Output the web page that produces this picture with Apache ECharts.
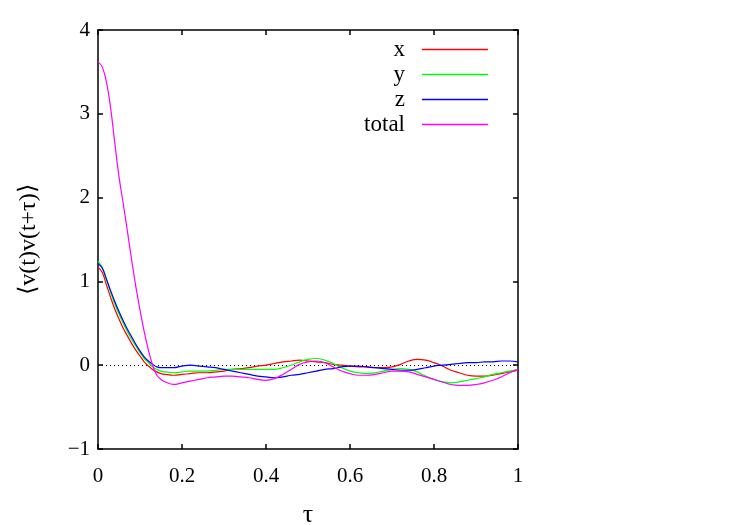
<!DOCTYPE html>
<html>
<head>
<meta charset="utf-8">
<script src="https://cdn.jsdelivr.net/npm/echarts@6/dist/echarts.min.js"></script>
<style>
  html, body { margin: 0; padding: 0; background: #fff; }
  #chart { width: 750px; height: 525px; }
</style>
</head>
<body>
<div id="chart"></div>
<script>
// tau values (finer at the start where the curves drop fast)
let tau = [0, 0.01, 0.02, 0.03, 0.04, 0.05, 0.06, 0.07, 0.08, 0.09, 0.10, 0.11, 0.12, 0.13, 0.14, 0.15, 0.16,
  0.18, 0.20, 0.22, 0.24, 0.26, 0.28, 0.30, 0.32, 0.34, 0.36, 0.38, 0.40, 0.42, 0.44, 0.46, 0.48,
  0.50, 0.52, 0.54, 0.56, 0.58, 0.60, 0.62, 0.64, 0.66, 0.68, 0.70, 0.72, 0.74, 0.76, 0.78, 0.80,
  0.82, 0.84, 0.86, 0.88, 0.90, 0.92, 0.94, 0.96, 0.98, 1.00];

let vx = [1.17, 1.11, 0.96, 0.81, 0.67, 0.55, 0.44, 0.35, 0.26, 0.18, 0.11, 0.04, -0.01, -0.05, -0.08, -0.10, -0.11,
  -0.12, -0.11, -0.10, -0.09, -0.09, -0.08, -0.07, -0.05, -0.04, -0.03, -0.01, 0.00, 0.02, 0.04, 0.05, 0.06,
  0.05, 0.04, 0.03, 0.01, 0.00, -0.01, -0.02, -0.02, -0.03, -0.03, -0.02, 0.01, 0.05, 0.07, 0.06, 0.03,
  -0.01, -0.06, -0.09, -0.12, -0.13, -0.13, -0.12, -0.10, -0.08, -0.06];

let vy = [1.24, 1.17, 1.02, 0.87, 0.73, 0.61, 0.50, 0.40, 0.31, 0.23, 0.15, 0.08, 0.03, -0.02, -0.05, -0.07, -0.08,
  -0.09, -0.08, -0.07, -0.07, -0.07, -0.06, -0.05, -0.05, -0.05, -0.05, -0.05, -0.05, -0.05, -0.03, 0.00, 0.04,
  0.07, 0.08, 0.06, 0.02, -0.03, -0.07, -0.09, -0.10, -0.09, -0.07, -0.05, -0.04, -0.05, -0.08, -0.13, -0.17,
  -0.20, -0.21, -0.20, -0.18, -0.16, -0.14, -0.11, -0.09, -0.07, -0.05];

let vz = [1.21, 1.16, 1.03, 0.89, 0.76, 0.64, 0.53, 0.43, 0.34, 0.25, 0.17, 0.10, 0.05, 0.01, -0.02, -0.03, -0.03,
  -0.03, -0.01, 0.00, -0.01, -0.02, -0.03, -0.05, -0.07, -0.09, -0.11, -0.13, -0.14, -0.15, -0.14, -0.12, -0.11,
  -0.09, -0.07, -0.05, -0.04, -0.02, -0.01, -0.01, -0.02, -0.03, -0.04, -0.05, -0.06, -0.06, -0.05, -0.03, -0.01,
  0.00, 0.01, 0.02, 0.03, 0.03, 0.04, 0.04, 0.05, 0.05, 0.04];

let vtotal = [3.62, 3.56, 3.38, 3.07, 2.65, 2.25, 1.93, 1.60, 1.26, 0.94, 0.66, 0.40, 0.18, 0.00, -0.12, -0.17, -0.20,
  -0.23, -0.21, -0.19, -0.17, -0.15, -0.14, -0.13, -0.13, -0.14, -0.15, -0.17, -0.18, -0.16, -0.11, -0.05, 0.01,
  0.04, 0.05, 0.03, -0.02, -0.07, -0.10, -0.12, -0.12, -0.11, -0.09, -0.07, -0.07, -0.08, -0.11, -0.14, -0.17,
  -0.20, -0.23, -0.24, -0.24, -0.23, -0.21, -0.18, -0.14, -0.09, -0.05];

let names = ['x', 'y', 'z', 'total'];
let colors = ['#ff0000', '#00ff00', '#0000ff', '#ff00ff'];
let values = [vx, vy, vz, vtotal];

let font = 'Liberation Serif';

function pairs(v) {
  let out = [];
  for (let i = 0; i < tau.length; i++) out.push([tau[i], v[i]]);
  return out;
}

let myChart = echarts.init(document.getElementById('chart'));

let axisCommon = {
  axisLine: { show: true, onZero: false, lineStyle: { color: '#000', width: 1.5 } },
  axisTick: { show: true, inside: true, length: 5, lineStyle: { color: '#000', width: 1.5 } },
  splitLine: { show: false }
};

let series = [];
for (let i = 0; i < names.length; i++) {
  series.push({
    name: names[i],
    type: 'line',
    data: pairs(values[i]),
    smooth: 0.4,
    symbol: 'none',
    lineStyle: { color: colors[i], width: 1.2 },
    itemStyle: { color: colors[i] },
    z: 3
  });
}
// dotted zero line
series[0].markLine = {
  silent: true,
  symbol: 'none',
  label: { show: false },
  lineStyle: { color: '#000', type: [1, 3], width: 1 },
  data: [{ yAxis: 0 }],
  z: 1
};

let option = {
  animation: false,
  backgroundColor: '#fff',
  grid: { left: 98, top: 30, width: 420, height: 419, outerBoundsMode: 'none', containLabel: false },
  legend: {
    data: names.map(function (n, i) {
      return { name: n, icon: 'rect', itemStyle: { color: colors[i] } };
    }),
    orient: 'vertical',
    right: 257,
    top: 33,
    align: 'right',
    itemWidth: 66,
    itemHeight: 1.5,
    itemGap: 2,
    textStyle: { fontFamily: font, fontSize: 23, color: '#000', lineHeight: 20, padding: [0, 12, 0, 0] }
  },
  xAxis: [
    Object.assign({}, axisCommon, {
      type: 'value', min: 0, max: 1, interval: 0.2,
      name: 'τ', nameLocation: 'middle', nameGap: 53,
      nameTextStyle: { fontFamily: font, fontSize: 26, color: '#000' },
      axisLabel: { fontFamily: font, fontSize: 21, color: '#000', margin: 17,
        formatter: function (v) { return String(+v.toFixed(1)); } }
    }),
    Object.assign({}, axisCommon, {
      type: 'value', position: 'top', min: 0, max: 1, interval: 0.2,
      axisLabel: { show: false }
    })
  ],
  yAxis: [
    Object.assign({}, axisCommon, {
      type: 'value', min: -1, max: 4, interval: 1,
      name: '⟨v(t)v(t+τ)⟩', nameLocation: 'middle', nameGap: 57, nameRotate: 90,
      nameTextStyle: { fontFamily: font, fontSize: 24, color: '#000' },
      axisLabel: { fontFamily: font, fontSize: 21, color: '#000', margin: 8,
        formatter: function (v) { return String(v).replace('-', '\u2212'); } }
    }),
    Object.assign({}, axisCommon, {
      type: 'value', position: 'right', min: -1, max: 4, interval: 1,
      axisLabel: { show: false }
    })
  ],
  series: series
};

myChart.setOption(option);
</script>
</body>
</html>
